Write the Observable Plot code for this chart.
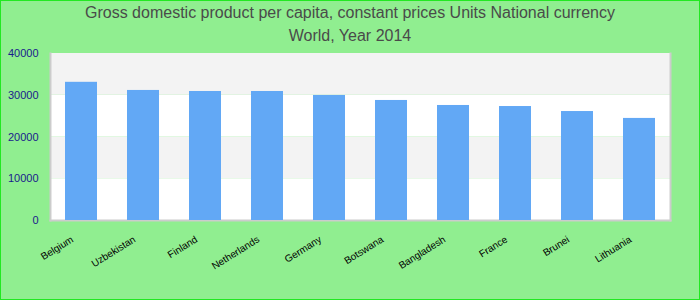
<!DOCTYPE html>
<html>
<head>
<meta charset="utf-8">
<script src="https://cdn.jsdelivr.net/npm/d3@7"></script>
<script src="https://cdn.jsdelivr.net/npm/@observablehq/plot@0.6"></script>
<style>
  html, body { margin: 0; padding: 0; }
  #wrap { position: relative; width: 700px; height: 300px; background: #90ee90; overflow: hidden; font-family: "Liberation Sans", Arial, sans-serif; }
  #border { position: absolute; left: 0; top: 0; width: 700px; height: 300px; box-sizing: border-box; border: 1px solid #22e822; pointer-events: none; }
  #title { height: 45px; text-align: center; color: #4a4a4a; font-size: 16px; line-height: 23px; padding-top: 1px; box-sizing: border-box; }
  #chart svg { display: block; }
</style>
</head>
<body>
<div id="wrap">
  <div id="title">Gross domestic product per capita, constant prices Units National currency<br>World, Year 2014</div>
  <div id="chart"></div>
  <div id="border"></div>
</div>
<script>
const countries = ["Belgium", "Uzbekistan", "Finland", "Netherlands", "Germany", "Botswana", "Bangladesh", "France", "Brunei", "Lithuania"];
const gdp = [33100, 31150, 30900, 30900, 29950, 28750, 27550, 27300, 26100, 24450];
const yTicks = [0, 10000, 20000, 30000, 40000];

const data = countries.map((c, i) => ({country: c, value: gdp[i]}));
const bands = yTicks.slice(0, -1).map((t, i) => ({y1: t, y2: yTicks[i + 1], odd: i % 2 === 1}));

const chart = Plot.plot({
  width: 700,
  height: 255,
  marginTop: 8,
  marginBottom: 80,
  marginLeft: 50,
  marginRight: 30,
  style: {fontFamily: "'Liberation Sans', Arial, sans-serif", background: "transparent"},
  x: {domain: countries, paddingInner: 0.48, paddingOuter: 0.24, label: null},
  y: {domain: [0, 40000], label: null},
  marks: [
    Plot.rect(bands, {y1: "y1", y2: "y2", fill: d => d.odd ? "#f3f3f3" : "#ffffff"}),
    Plot.frame({anchor: "left", stroke: "#cccccc", strokeWidth: 2}),
    Plot.frame({anchor: "right", stroke: "#cccccc", strokeWidth: 2}),
    Plot.frame({anchor: "bottom", stroke: "#cccccc", strokeWidth: 2}),
    Plot.barY(data, {x: "country", y: "value", fill: "#62a8f5"}),
    Plot.axisY({ticks: yTicks, tickFormat: d => String(d), tickSize: 0, tickPadding: 12, fontSize: 11, fill: "#1a1a8c", label: null}),
    Plot.axisX({tickSize: 0, tickRotate: -32, tickPadding: 12, fontSize: 10, fill: "#000000", dx: -9, dy: 6, label: null})
  ]
});
document.getElementById("chart").appendChild(chart);
</script>
</body>
</html>
